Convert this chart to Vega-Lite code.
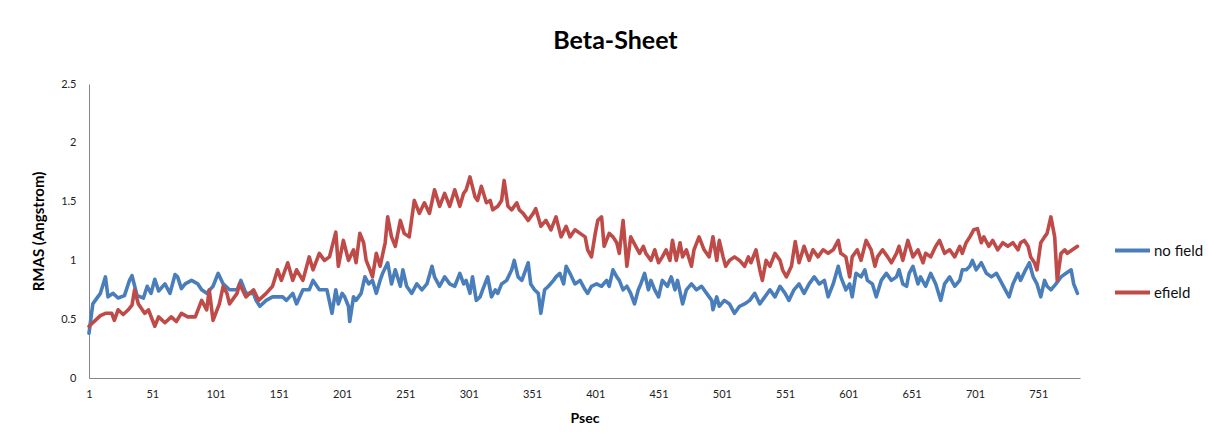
{
  "$schema": "https://vega.github.io/schema/vega-lite/v6.json",
  "autosize": "none",
  "width": 991,
  "height": 294,
  "padding": {"left": 89, "top": 84, "right": 128, "bottom": 61},
  "background": "white",
  "title": {"text": "Beta-Sheet", "font": "Lato", "fontSize": 25, "fontWeight": "bold", "color": "#000000", "anchor": "middle", "dx": 31, "offset": 24},
  "datasets": {
    "nofield": [
      {"psec":1,"rmas":0.38},{"psec":4,"rmas":0.63},{"psec":10,"rmas":0.72},{"psec":14,"rmas":0.86},{"psec":16,"rmas":0.69},{"psec":20,"rmas":0.72},{"psec":24,"rmas":0.68},{"psec":29,"rmas":0.70},{"psec":33,"rmas":0.83},{"psec":35,"rmas":0.87},{"psec":39,"rmas":0.70},{"psec":44,"rmas":0.68},{"psec":47,"rmas":0.78},{"psec":50,"rmas":0.72},{"psec":53,"rmas":0.84},{"psec":56,"rmas":0.74},{"psec":61,"rmas":0.80},{"psec":65,"rmas":0.72},{"psec":69,"rmas":0.88},{"psec":71,"rmas":0.86},{"psec":74,"rmas":0.76},{"psec":77,"rmas":0.80},{"psec":82,"rmas":0.83},{"psec":87,"rmas":0.80},{"psec":90,"rmas":0.75},{"psec":94,"rmas":0.72},{"psec":99,"rmas":0.78},
      {"psec":103,"rmas":0.89},{"psec":107,"rmas":0.80},{"psec":112,"rmas":0.75},{"psec":118,"rmas":0.75},{"psec":121,"rmas":0.83},{"psec":125,"rmas":0.72},{"psec":131,"rmas":0.72},{"psec":133,"rmas":0.66},{"psec":136,"rmas":0.61},{"psec":141,"rmas":0.66},{"psec":146,"rmas":0.69},{"psec":154,"rmas":0.69},{"psec":157,"rmas":0.66},{"psec":162,"rmas":0.72},{"psec":165,"rmas":0.63},{"psec":170,"rmas":0.75},{"psec":175,"rmas":0.75},{"psec":178,"rmas":0.83},{"psec":183,"rmas":0.75},{"psec":189,"rmas":0.75},{"psec":193,"rmas":0.55},{"psec":196,"rmas":0.75},
      {"psec":198,"rmas":0.63},{"psec":201,"rmas":0.72},{"psec":203,"rmas":0.69},{"psec":206,"rmas":0.61},{"psec":207,"rmas":0.48},{"psec":210,"rmas":0.69},{"psec":212,"rmas":0.66},{"psec":216,"rmas":0.72},{"psec":219,"rmas":0.86},{"psec":222,"rmas":0.80},{"psec":225,"rmas":0.83},{"psec":228,"rmas":0.72},{"psec":231,"rmas":0.83},{"psec":233,"rmas":0.89},{"psec":237,"rmas":0.98},{"psec":240,"rmas":0.80},{"psec":243,"rmas":0.92},{"psec":247,"rmas":0.78},{"psec":249,"rmas":0.92},{"psec":252,"rmas":0.78},{"psec":256,"rmas":0.72},{"psec":260,"rmas":0.80},{"psec":264,"rmas":0.75},{"psec":268,"rmas":0.80},{"psec":272,"rmas":0.95},{"psec":274,"rmas":0.86},{"psec":278,"rmas":0.78},{"psec":282,"rmas":0.86},{"psec":286,"rmas":0.80},{"psec":290,"rmas":0.78},{"psec":294,"rmas":0.89},{"psec":297,"rmas":0.80},
      {"psec":299,"rmas":0.83},{"psec":302,"rmas":0.72},{"psec":304,"rmas":0.86},{"psec":307,"rmas":0.66},{"psec":310,"rmas":0.69},{"psec":312,"rmas":0.75},{"psec":316,"rmas":0.86},{"psec":319,"rmas":0.69},{"psec":322,"rmas":0.75},{"psec":324,"rmas":0.72},{"psec":327,"rmas":0.80},{"psec":331,"rmas":0.83},{"psec":335,"rmas":0.92},{"psec":337,"rmas":1.00},{"psec":340,"rmas":0.86},{"psec":343,"rmas":0.83},{"psec":345,"rmas":0.89},{"psec":348,"rmas":0.98},{"psec":350,"rmas":0.80},{"psec":353,"rmas":0.75},{"psec":356,"rmas":0.72},{"psec":358,"rmas":0.55},{"psec":361,"rmas":0.75},{"psec":364,"rmas":0.78},{"psec":368,"rmas":0.83},{"psec":370,"rmas":0.86},{"psec":373,"rmas":0.89},{"psec":376,"rmas":0.80},{"psec":378,"rmas":0.95},{"psec":381,"rmas":0.89},{"psec":385,"rmas":0.80},{"psec":389,"rmas":0.83},{"psec":393,"rmas":0.75},{"psec":395,"rmas":0.72},
      {"psec":398,"rmas":0.78},{"psec":402,"rmas":0.80},{"psec":406,"rmas":0.78},{"psec":410,"rmas":0.83},{"psec":412,"rmas":0.78},{"psec":415,"rmas":0.92},{"psec":418,"rmas":0.86},{"psec":420,"rmas":0.83},{"psec":423,"rmas":0.75},{"psec":426,"rmas":0.78},{"psec":429,"rmas":0.72},{"psec":432,"rmas":0.63},{"psec":435,"rmas":0.75},{"psec":437,"rmas":0.80},{"psec":440,"rmas":0.89},{"psec":443,"rmas":0.75},{"psec":445,"rmas":0.83},{"psec":448,"rmas":0.75},{"psec":451,"rmas":0.69},{"psec":454,"rmas":0.83},{"psec":458,"rmas":0.78},{"psec":461,"rmas":0.86},{"psec":464,"rmas":0.75},{"psec":466,"rmas":0.83},{"psec":470,"rmas":0.63},{"psec":473,"rmas":0.75},{"psec":477,"rmas":0.80},{"psec":481,"rmas":0.75},{"psec":485,"rmas":0.78},{"psec":489,"rmas":0.72},{"psec":493,"rmas":0.66},{"psec":494,"rmas":0.58},
      {"psec":497,"rmas":0.69},{"psec":499,"rmas":0.61},{"psec":503,"rmas":0.66},{"psec":507,"rmas":0.63},{"psec":511,"rmas":0.55},{"psec":515,"rmas":0.61},{"psec":519,"rmas":0.63},{"psec":523,"rmas":0.66},{"psec":527,"rmas":0.72},{"psec":531,"rmas":0.63},{"psec":535,"rmas":0.69},{"psec":539,"rmas":0.75},{"psec":543,"rmas":0.69},{"psec":547,"rmas":0.78},{"psec":551,"rmas":0.72},{"psec":554,"rmas":0.66},{"psec":558,"rmas":0.75},{"psec":562,"rmas":0.80},{"psec":566,"rmas":0.72},{"psec":570,"rmas":0.80},{"psec":574,"rmas":0.86},{"psec":578,"rmas":0.80},{"psec":582,"rmas":0.83},{"psec":585,"rmas":0.69},{"psec":589,"rmas":0.80},{"psec":593,"rmas":0.95},
      {"psec":595,"rmas":0.86},{"psec":599,"rmas":0.75},{"psec":602,"rmas":0.80},{"psec":604,"rmas":0.69},{"psec":607,"rmas":0.89},{"psec":611,"rmas":0.86},{"psec":614,"rmas":0.92},{"psec":616,"rmas":0.83},{"psec":620,"rmas":0.80},{"psec":623,"rmas":0.69},{"psec":627,"rmas":0.83},{"psec":631,"rmas":0.89},{"psec":635,"rmas":0.83},{"psec":639,"rmas":0.86},{"psec":641,"rmas":0.92},{"psec":644,"rmas":0.80},{"psec":647,"rmas":0.78},{"psec":649,"rmas":0.89},{"psec":652,"rmas":0.95},{"psec":656,"rmas":0.80},{"psec":658,"rmas":0.86},{"psec":662,"rmas":0.78},{"psec":666,"rmas":0.89},{"psec":670,"rmas":0.80},{"psec":674,"rmas":0.66},{"psec":677,"rmas":0.80},{"psec":681,"rmas":0.86},{"psec":685,"rmas":0.78},{"psec":689,"rmas":0.83},{"psec":691,"rmas":0.92},
      {"psec":694,"rmas":0.92},{"psec":697,"rmas":0.95},{"psec":699,"rmas":1.00},{"psec":702,"rmas":0.92},{"psec":706,"rmas":0.98},{"psec":710,"rmas":0.89},{"psec":714,"rmas":0.86},{"psec":718,"rmas":0.89},{"psec":721,"rmas":0.83},{"psec":725,"rmas":0.75},{"psec":728,"rmas":0.69},{"psec":731,"rmas":0.80},{"psec":735,"rmas":0.89},{"psec":737,"rmas":0.83},{"psec":741,"rmas":0.92},{"psec":744,"rmas":0.98},{"psec":747,"rmas":0.86},{"psec":750,"rmas":0.80},{"psec":753,"rmas":0.69},{"psec":756,"rmas":0.83},{"psec":758,"rmas":0.78},{"psec":761,"rmas":0.75},{"psec":765,"rmas":0.80},{"psec":769,"rmas":0.86},{"psec":773,"rmas":0.89},{"psec":777,"rmas":0.92},{"psec":779,"rmas":0.80},{"psec":782,"rmas":0.72}
    ],
    "efield": [
      {"psec":1,"rmas":0.44},{"psec":6,"rmas":0.49},{"psec":10,"rmas":0.53},{"psec":14,"rmas":0.55},{"psec":19,"rmas":0.55},{"psec":21,"rmas":0.49},{"psec":24,"rmas":0.58},{"psec":28,"rmas":0.54},{"psec":32,"rmas":0.58},{"psec":35,"rmas":0.62},{"psec":37,"rmas":0.75},{"psec":40,"rmas":0.63},{"psec":45,"rmas":0.55},{"psec":48,"rmas":0.58},{"psec":53,"rmas":0.44},{"psec":56,"rmas":0.52},{"psec":61,"rmas":0.47},{"psec":66,"rmas":0.52},{"psec":70,"rmas":0.48},{"psec":74,"rmas":0.55},{"psec":79,"rmas":0.52},{"psec":85,"rmas":0.52},{"psec":90,"rmas":0.66},{"psec":94,"rmas":0.58},{"psec":96,"rmas":0.75},{"psec":99,"rmas":0.49},{"psec":104,"rmas":0.63},
      {"psec":107,"rmas":0.78},{"psec":110,"rmas":0.72},{"psec":112,"rmas":0.63},{"psec":118,"rmas":0.72},{"psec":120,"rmas":0.80},{"psec":125,"rmas":0.69},{"psec":131,"rmas":0.75},{"psec":135,"rmas":0.66},{"psec":141,"rmas":0.72},{"psec":146,"rmas":0.78},{"psec":150,"rmas":0.92},{"psec":153,"rmas":0.83},{"psec":158,"rmas":0.98},{"psec":162,"rmas":0.83},{"psec":165,"rmas":0.92},{"psec":170,"rmas":0.83},{"psec":175,"rmas":1.03},{"psec":178,"rmas":0.92},{"psec":183,"rmas":1.06},{"psec":187,"rmas":1.00},{"psec":191,"rmas":1.03},{"psec":196,"rmas":1.24},
      {"psec":198,"rmas":0.95},{"psec":202,"rmas":1.17},{"psec":206,"rmas":1.00},{"psec":210,"rmas":1.09},{"psec":212,"rmas":0.98},{"psec":215,"rmas":1.23},{"psec":218,"rmas":1.15},{"psec":220,"rmas":1.00},{"psec":223,"rmas":0.92},{"psec":225,"rmas":0.86},{"psec":228,"rmas":1.06},{"psec":231,"rmas":0.95},{"psec":235,"rmas":1.15},{"psec":237,"rmas":1.37},{"psec":240,"rmas":1.20},{"psec":243,"rmas":1.12},{"psec":247,"rmas":1.34},{"psec":250,"rmas":1.23},{"psec":254,"rmas":1.20},{"psec":258,"rmas":1.51},{"psec":262,"rmas":1.40},{"psec":266,"rmas":1.49},{"psec":270,"rmas":1.40},{"psec":274,"rmas":1.60},{"psec":278,"rmas":1.46},{"psec":282,"rmas":1.57},{"psec":286,"rmas":1.46},{"psec":290,"rmas":1.60},{"psec":294,"rmas":1.46},{"psec":297,"rmas":1.57},
      {"psec":299,"rmas":1.60},{"psec":302,"rmas":1.71},{"psec":306,"rmas":1.54},{"psec":308,"rmas":1.51},{"psec":311,"rmas":1.63},{"psec":315,"rmas":1.49},{"psec":318,"rmas":1.51},{"psec":320,"rmas":1.43},{"psec":324,"rmas":1.46},{"psec":327,"rmas":1.51},{"psec":329,"rmas":1.68},{"psec":332,"rmas":1.46},{"psec":335,"rmas":1.43},{"psec":339,"rmas":1.49},{"psec":341,"rmas":1.43},{"psec":344,"rmas":1.40},{"psec":348,"rmas":1.34},{"psec":352,"rmas":1.40},{"psec":354,"rmas":1.44},{"psec":358,"rmas":1.29},{"psec":362,"rmas":1.34},{"psec":366,"rmas":1.26},{"psec":370,"rmas":1.37},{"psec":374,"rmas":1.20},{"psec":378,"rmas":1.29},{"psec":381,"rmas":1.20},{"psec":385,"rmas":1.26},{"psec":389,"rmas":1.23},{"psec":393,"rmas":1.20},{"psec":395,"rmas":1.09},
      {"psec":398,"rmas":1.03},{"psec":401,"rmas":1.23},{"psec":403,"rmas":1.34},{"psec":406,"rmas":1.37},{"psec":408,"rmas":1.12},{"psec":412,"rmas":1.23},{"psec":415,"rmas":1.20},{"psec":418,"rmas":1.15},{"psec":420,"rmas":1.06},{"psec":423,"rmas":1.34},{"psec":426,"rmas":0.95},{"psec":429,"rmas":1.20},{"psec":433,"rmas":1.12},{"psec":436,"rmas":1.06},{"psec":439,"rmas":1.12},{"psec":441,"rmas":1.06},{"psec":445,"rmas":1.00},{"psec":448,"rmas":1.09},{"psec":451,"rmas":0.98},{"psec":454,"rmas":1.03},{"psec":457,"rmas":1.09},{"psec":460,"rmas":1.00},{"psec":462,"rmas":1.17},{"psec":465,"rmas":1.00},{"psec":468,"rmas":1.15},{"psec":470,"rmas":1.03},{"psec":473,"rmas":1.09},{"psec":477,"rmas":0.95},{"psec":479,"rmas":1.09},{"psec":483,"rmas":1.20},{"psec":487,"rmas":1.09},{"psec":491,"rmas":1.03},{"psec":494,"rmas":1.20},
      {"psec":497,"rmas":1.00},{"psec":499,"rmas":1.17},{"psec":502,"rmas":1.03},{"psec":504,"rmas":0.95},{"psec":507,"rmas":1.00},{"psec":511,"rmas":1.03},{"psec":515,"rmas":1.00},{"psec":519,"rmas":0.95},{"psec":522,"rmas":1.03},{"psec":524,"rmas":0.98},{"psec":528,"rmas":1.09},{"psec":531,"rmas":0.92},{"psec":533,"rmas":0.83},{"psec":536,"rmas":1.00},{"psec":539,"rmas":0.95},{"psec":543,"rmas":1.06},{"psec":547,"rmas":1.00},{"psec":549,"rmas":0.92},{"psec":552,"rmas":0.86},{"psec":556,"rmas":0.95},{"psec":559,"rmas":1.16},{"psec":562,"rmas":0.98},{"psec":566,"rmas":1.12},{"psec":570,"rmas":1.00},{"psec":573,"rmas":1.09},{"psec":577,"rmas":1.03},{"psec":581,"rmas":1.09},{"psec":585,"rmas":1.06},{"psec":589,"rmas":1.09},{"psec":593,"rmas":1.17},
      {"psec":595,"rmas":1.06},{"psec":599,"rmas":1.03},{"psec":602,"rmas":0.86},{"psec":604,"rmas":1.03},{"psec":608,"rmas":1.09},{"psec":611,"rmas":1.00},{"psec":615,"rmas":1.17},{"psec":619,"rmas":1.09},{"psec":622,"rmas":0.95},{"psec":624,"rmas":1.03},{"psec":628,"rmas":1.09},{"psec":632,"rmas":1.03},{"psec":635,"rmas":0.98},{"psec":639,"rmas":1.06},{"psec":641,"rmas":1.12},{"psec":644,"rmas":1.00},{"psec":648,"rmas":1.17},{"psec":652,"rmas":1.03},{"psec":656,"rmas":1.09},{"psec":660,"rmas":0.98},{"psec":662,"rmas":1.06},{"psec":666,"rmas":1.03},{"psec":670,"rmas":1.12},{"psec":673,"rmas":1.17},{"psec":677,"rmas":1.06},{"psec":681,"rmas":1.09},{"psec":685,"rmas":1.03},{"psec":689,"rmas":1.12},{"psec":691,"rmas":1.06},
      {"psec":694,"rmas":1.15},{"psec":697,"rmas":1.20},{"psec":700,"rmas":1.26},{"psec":703,"rmas":1.27},{"psec":706,"rmas":1.15},{"psec":708,"rmas":1.20},{"psec":712,"rmas":1.12},{"psec":715,"rmas":1.17},{"psec":719,"rmas":1.09},{"psec":723,"rmas":1.15},{"psec":727,"rmas":1.12},{"psec":731,"rmas":1.15},{"psec":735,"rmas":1.09},{"psec":737,"rmas":1.15},{"psec":740,"rmas":1.17},{"psec":743,"rmas":1.12},{"psec":745,"rmas":1.03},{"psec":748,"rmas":0.98},{"psec":750,"rmas":0.92},{"psec":753,"rmas":1.15},{"psec":756,"rmas":1.20},{"psec":758,"rmas":1.23},{"psec":761,"rmas":1.37},{"psec":764,"rmas":1.20},{"psec":766,"rmas":0.83},{"psec":769,"rmas":1.06},{"psec":772,"rmas":1.09},{"psec":774,"rmas":1.06},{"psec":778,"rmas":1.09},{"psec":782,"rmas":1.12}
    ]
  },
  "layer": [
    {
      "data": {"name": "nofield"},
      "mark": {"type": "line", "strokeWidth": 3.6, "strokeJoin": "round", "strokeCap": "round"},
      "encoding": {
        "x": {"field": "psec", "type": "quantitative"},
        "y": {"field": "rmas", "type": "quantitative"},
        "color": {"datum": "no field"}
      }
    },
    {
      "data": {"name": "efield"},
      "mark": {"type": "line", "strokeWidth": 3.6, "strokeJoin": "round", "strokeCap": "round"},
      "encoding": {
        "x": {"field": "psec", "type": "quantitative", "scale": {"domain": [1, 784], "nice": false, "zero": false},
          "axis": {"title": "Psec", "values": [1,51,101,151,201,251,301,351,401,451,501,551,601,651,701,751], "grid": false, "ticks": false, "domainColor": "#868686", "labelFont": "Lato", "labelFontSize": 11, "labelColor": "#222222", "labelPadding": 10, "titleFont": "Lato", "titleFontSize": 14, "titleFontWeight": "bold", "titleColor": "#000000", "titlePadding": 12, "labelFlush": false}},
        "y": {"field": "rmas", "type": "quantitative", "scale": {"domain": [0, 2.5], "nice": false},
          "axis": {"title": "RMAS (Angstrom)", "values": [0,0.5,1,1.5,2,2.5], "labelExpr": "datum.value + ''", "grid": false, "ticks": false, "domainColor": "#868686", "labelFont": "Lato", "labelFontSize": 11, "labelColor": "#222222", "labelPadding": 13, "titleFont": "Lato", "titleFontSize": 15, "titleFontWeight": "bold", "titleColor": "#000000", "titlePadding": 14}},
        "color": {"datum": "efield",
          "scale": {"domain": ["no field", "efield"], "range": ["#4a7ebb", "#be4b48"]},
          "legend": {"title": null, "orient": "none", "legendX": 1024, "legendY": 147, "symbolType": "stroke", "symbolSize": 1225, "symbolStrokeWidth": 4, "labelFont": "Lato", "labelFontSize": 15, "labelColor": "#111111", "rowPadding": 14, "labelOffset": 2}}
      }
    }
  ],
  "config": {"view": {"stroke": null}}
}
